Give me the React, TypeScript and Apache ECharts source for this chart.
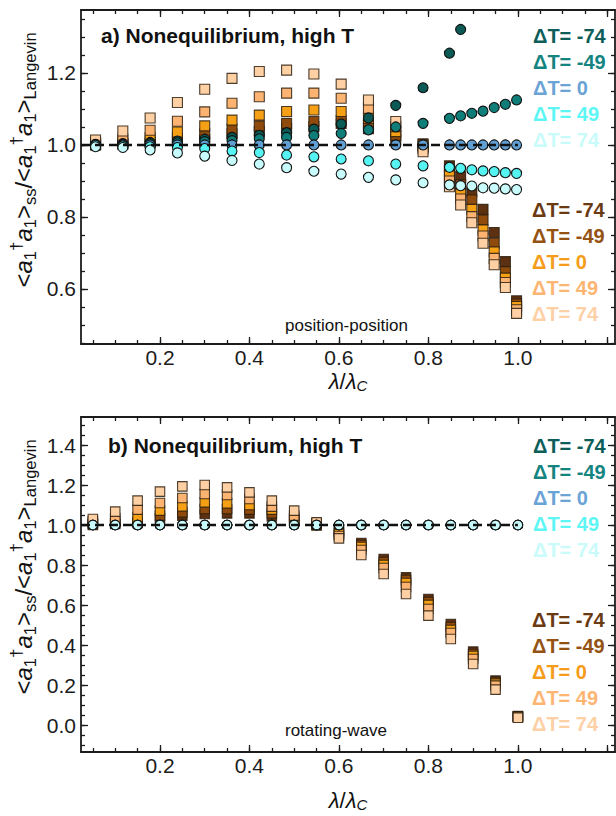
import React, { useEffect, useRef } from "react";
import * as echarts from "echarts";

const FONT = "'Liberation Sans', Arial, Helvetica, sans-serif";

// ---------- legend labels & colours ----------
const dtLabels = ["ΔT= -74", "ΔT= -49", "ΔT= 0", "ΔT= 49", "ΔT= 74"];
const circleColors = ["#0b5a56", "#0f7d78", "#5f9fd3", "#56f3f3", "#c8fcfc"];
const squareColors = ["#5c3010", "#8f4b0c", "#f5a015", "#fdb472", "#fed0a3"];
const circleTextColors = ["#0d5e59", "#138480", "#6aa3d6", "#5ef5f5", "#c9fbfb"];
const squareTextColors = ["#6a3a12", "#945213", "#f59c1a", "#fdb574", "#fdd0a6"];

// ---------- panel a: position-position ----------
const xA = [0.056, 0.117, 0.178, 0.239, 0.3, 0.361, 0.422, 0.483, 0.544, 0.605, 0.666, 0.727, 0.788, 0.847, 0.872, 0.897, 0.922, 0.947, 0.972, 0.997];
const circA_m74 = [1.002, 1.004, 1.007, 1.011, 1.016, 1.021, 1.027, 1.034, 1.044, 1.058, 1.075, 1.11, 1.159, 1.255, 1.321, null, null, null, null, null];
const circA_m49 = [1.001, 1.002, 1.004, 1.006, 1.009, 1.012, 1.017, 1.021, 1.026, 1.032, 1.042, 1.05, 1.06, 1.074, 1.081, 1.088, 1.094, 1.104, 1.113, 1.125];
const circA_0 = [1, 1, 1, 1, 1, 1, 1, 1, 1, 1, 1, 1, 1, 1, 1, 1, 1, 1, 1, 1];
const circA_49 = [0.999, 0.997, 0.995, 0.993, 0.99, 0.983, 0.979, 0.972, 0.967, 0.961, 0.956, 0.947, 0.942, 0.938, 0.935, 0.931, 0.928, 0.926, 0.923, 0.921];
const circA_74 = [0.995, 0.993, 0.986, 0.978, 0.969, 0.957, 0.947, 0.937, 0.927, 0.919, 0.91, 0.903, 0.895, 0.889, 0.887, 0.886, 0.881, 0.88, 0.878, 0.876];
const sqA_m74 = [1.0, 1.002, 1.005, 1.009, 1.015, 1.031, 1.037, 1.046, 1.051, 1.06, 1.045, 1.016, 1.003, 0.942, 0.912, 0.87, 0.821, 0.757, 0.676, 0.567];
const sqA_m49 = [1.001, 1.004, 1.01, 1.019, 1.031, 1.044, 1.053, 1.06, 1.065, 1.068, 1.056, 1.027, 1.0, 0.928, 0.89, 0.847, 0.792, 0.727, 0.648, 0.558];
const sqA_0 = [1.003, 1.008, 1.02, 1.036, 1.053, 1.069, 1.083, 1.093, 1.097, 1.093, 1.074, 1.037, 0.995, 0.914, 0.865, 0.821, 0.764, 0.703, 0.63, 0.551];
const sqA_49 = [1.006, 1.016, 1.041, 1.066, 1.092, 1.116, 1.134, 1.144, 1.144, 1.13, 1.102, 1.051, 0.99, 0.9, 0.85, 0.801, 0.747, 0.685, 0.618, 0.542];
const sqA_74 = [1.014, 1.039, 1.075, 1.118, 1.155, 1.185, 1.204, 1.208, 1.197, 1.169, 1.125, 1.065, 0.981, 0.884, 0.833, 0.784, 0.727, 0.667, 0.604, 0.532];

// ---------- panel b: rotating-wave ----------
const xB = [0.05, 0.1, 0.15, 0.2, 0.25, 0.3, 0.35, 0.4, 0.45, 0.5, 0.55, 0.6, 0.65, 0.7, 0.75, 0.8, 0.85, 0.9, 0.95, 1.0];
const circB_m74 = [1, 1, 1, 1, 1, 1, 1, 1, 1, 1, 1, 1, 1, 1, 1, 1, 1, 1, 1, 1];
const circB_m49 = [1, 1, 1, 1, 1, 1, 1, 1, 1, 1, 1, 1, 1, 1, 1, 1, 1, 1, 1, 1];
const circB_0 = [1, 1, 1, 1, 1, 1, 1, 1, 1, 1, 1, 1, 1, 1, 1, 1, 1, 1, 1, 1];
const circB_49 = [1, 1, 1, 1, 1, 1, 1, 1, 1, 1, 1, 1, 1, 1, 1, 1, 1, 1, 1, 1];
const circB_74 = [1, 1, 1, 1, 1, 1, 1, 1, 1, 1, 1, 1, 1, 1, 1, 1, 1, 1, 1, 1];
const sqB_m74 = [1.0, 1.005, 1.01, 1.033, 1.047, 1.055, 1.058, 1.058, 1.043, 1.02, 0.998, 0.975, 0.91, 0.83, 0.738, 0.63, 0.505, 0.367, 0.222, 0.045];
const sqB_m49 = [1.005, 1.01, 1.02, 1.047, 1.063, 1.08, 1.08, 1.077, 1.058, 1.027, 1.0, 0.965, 0.9, 0.815, 0.725, 0.615, 0.49, 0.355, 0.215, 0.043];
const sqB_0 = [1.01, 1.02, 1.038, 1.072, 1.093, 1.113, 1.108, 1.1, 1.077, 1.035, 1.005, 0.955, 0.89, 0.8, 0.71, 0.6, 0.475, 0.345, 0.207, 0.041];
const sqB_49 = [1.02, 1.035, 1.077, 1.11, 1.135, 1.155, 1.15, 1.13, 1.092, 1.047, 1.01, 0.945, 0.875, 0.785, 0.69, 0.58, 0.46, 0.33, 0.197, 0.04];
const sqB_74 = [1.03, 1.067, 1.122, 1.167, 1.193, 1.2, 1.188, 1.163, 1.122, 1.072, 1.013, 0.933, 0.85, 0.755, 0.655, 0.547, 0.43, 0.305, 0.177, 0.036];

// reference line
const refLineX = [0.0235, 1.0];
const refLineY = 1.0;

// ---------- ticks ----------
const xTickMajor = [0.2, 0.4, 0.6, 0.8, 1.0, 1.2];
const xTickLabels = [0.2, 0.4, 0.6, 0.8, 1.0];
const yTickMajorA = [0.6, 0.8, 1.0, 1.2];
const yTickMajorB = [0.0, 0.2, 0.4, 0.6, 0.8, 1.0, 1.2, 1.4];

function minorTicks(a: number, b: number, step: number) {
  const out: number[] = [];
  const n = Math.round((b - a) / step);
  for (let i = 0; i <= n; i++) out.push(Math.round((a + i * step) * 1000) / 1000);
  return out;
}
const xTickMinor = minorTicks(0.05, 1.2, 0.05);
const yTickMinorA = minorTicks(0.45, 1.35, 0.05);
const yTickMinorB = minorTicks(-0.1, 1.5, 0.05);

const panels = [
  {
    grid: { left: 81, top: 10, width: 534, height: 334 },
    xMin: 0.0235, xMax: 1.217, yMin: 0.447, yMax: 1.375,
    yMajor: yTickMajorA, yMinor: yTickMinorA,
    x: xA,
    circles: [circA_m74, circA_m49, circA_0, circA_49, circA_74],
    squares: [sqA_m74, sqA_m49, sqA_0, sqA_49, sqA_74],
    title: "a) Nonequilibrium, high T", titlePos: [101, 35],
    note: "position-position", notePos: [285, 325],
    circLegendTop: 36, sqLegendTop: 210,
    xNameY: 381, yTitleY: 160,
    sym: 10,
  },
  {
    grid: { left: 81, top: 417, width: 534, height: 335 },
    xMin: 0.0235, xMax: 1.217, yMin: -0.135, yMax: 1.54,
    yMajor: yTickMajorB, yMinor: yTickMinorB,
    x: xB,
    circles: [circB_m74, circB_m49, circB_0, circB_49, circB_74],
    squares: [sqB_m74, sqB_m49, sqB_0, sqB_49, sqB_74],
    title: "b) Nonequilibrium, high T", titlePos: [108, 445],
    note: "rotating-wave", notePos: [285, 730],
    circLegendTop: 446, sqLegendTop: 620,
    xNameY: 800, yTitleY: 567,
    sym: 9.5,
  },
];

const AX = "#1c1c1c";

function buildOption() {
  const grids: any[] = [];
  const xAxes: any[] = [];
  const yAxes: any[] = [];
  const series: any[] = [];
  const graphic: any[] = [];

  panels.forEach((p, g) => {
    grids.push({ ...p.grid, show: false, containLabel: false });
    const base = g * 4;
    const commonX = { type: "value", gridIndex: g, min: p.xMin, max: p.xMax, splitLine: { show: false } };
    const commonY = { type: "value", gridIndex: g, min: p.yMin, max: p.yMax, splitLine: { show: false } };
    const lineOn = { show: true, onZero: false, lineStyle: { color: AX, width: 1.8 } };
    const lineOff = { show: false, onZero: false };
    const tickStyle = { color: AX, width: 1.3 };
    // x axes: bottom major (labels), bottom minor, top major, top minor
    xAxes.push({
      ...commonX, position: "bottom", axisLine: lineOn,
      axisTick: { show: true, inside: true, length: 7, customValues: xTickMajor, lineStyle: tickStyle },
      axisLabel: {
        show: true, customValues: xTickLabels, margin: 3, fontSize: 21, fontFamily: FONT, color: AX,
        formatter: (v: number) => v.toFixed(1),
      },
    });
    xAxes.push({
      ...commonX, position: "bottom", axisLine: lineOff,
      axisTick: { show: true, inside: true, length: 4, customValues: xTickMinor, lineStyle: tickStyle },
      axisLabel: { show: false },
    });
    xAxes.push({
      ...commonX, position: "top", axisLine: lineOn,
      axisTick: { show: true, inside: true, length: 7, customValues: xTickMajor, lineStyle: tickStyle },
      axisLabel: { show: false },
    });
    xAxes.push({
      ...commonX, position: "top", axisLine: lineOff,
      axisTick: { show: true, inside: true, length: 4, customValues: xTickMinor, lineStyle: tickStyle },
      axisLabel: { show: false },
    });
    // y axes
    yAxes.push({
      ...commonY, position: "left", axisLine: lineOn,
      axisTick: { show: true, inside: true, length: 7, customValues: p.yMajor, lineStyle: tickStyle },
      axisLabel: {
        show: true, customValues: p.yMajor, margin: 5, fontSize: 21, fontFamily: FONT, color: AX,
        formatter: (v: number) => v.toFixed(1),
      },
    });
    yAxes.push({
      ...commonY, position: "left", axisLine: lineOff,
      axisTick: { show: true, inside: true, length: 4, customValues: p.yMinor, lineStyle: tickStyle },
      axisLabel: { show: false },
    });
    yAxes.push({
      ...commonY, position: "right", axisLine: lineOn,
      axisTick: { show: true, inside: true, length: 7, customValues: p.yMajor, lineStyle: tickStyle },
      axisLabel: { show: false },
    });
    yAxes.push({
      ...commonY, position: "right", axisLine: lineOff,
      axisTick: { show: true, inside: true, length: 4, customValues: p.yMinor, lineStyle: tickStyle },
      axisLabel: { show: false },
    });

    // squares
    p.squares.forEach((ys, k) => {
      series.push({
        type: "scatter", name: "sq" + g + "_" + dtLabels[k], xAxisIndex: base, yAxisIndex: base,
        symbol: "rect", symbolSize: p.sym, z: 2,
        itemStyle: { color: squareColors[k], borderColor: "rgba(45,30,15,0.85)", borderWidth: 1.1, opacity: 1 },
        data: p.x.map((x, i) => (ys[i] == null ? null : [x, ys[i]])).filter((d) => d !== null),
        silent: true,
      });
    });
    // circles
    p.circles.forEach((ys, k) => {
      series.push({
        type: "scatter", name: "c" + g + "_" + dtLabels[k], xAxisIndex: base, yAxisIndex: base,
        symbol: "circle", symbolSize: p.sym, z: 3,
        itemStyle: { color: circleColors[k], borderColor: "#111", borderWidth: 1.1, opacity: 1 },
        data: p.x.map((x, i) => (ys[i] == null ? null : [x, ys[i]])).filter((d) => d !== null),
        silent: true,
      });
    });
    // dashed reference line
    series.push({
      type: "line", xAxisIndex: base, yAxisIndex: base, z: 4, symbol: "none", silent: true,
      lineStyle: { color: "#111", width: 2.5, type: [9, 5] },
      data: refLineX.map((x) => [x, refLineY]),
    });

    // texts
    graphic.push({
      type: "text", x: p.titlePos[0], y: p.titlePos[1],
      style: { text: p.title, fontSize: 21, fontWeight: "bold", fontFamily: FONT, fill: "#111", align: "left", verticalAlign: "middle" },
    });
    graphic.push({
      type: "text", x: p.notePos[0], y: p.notePos[1],
      style: { text: p.note, fontSize: 17, fontFamily: FONT, fill: "#111", align: "left", verticalAlign: "middle" },
    });
    dtLabels.forEach((lab, k) => {
      graphic.push({
        type: "text", x: 533, y: p.circLegendTop + k * 26,
        style: { text: lab, fontSize: 20, fontWeight: "bold", fontFamily: FONT, fill: circleTextColors[k], align: "left", verticalAlign: "middle" },
      });
      graphic.push({
        type: "text", x: 532, y: p.sqLegendTop + k * 26,
        style: { text: lab, fontSize: 20, fontWeight: "bold", fontFamily: FONT, fill: squareTextColors[k], align: "left", verticalAlign: "middle" },
      });
    });
    // x axis name  λ/λC
    graphic.push({
      type: "text", x: 348, y: p.xNameY,
      style: {
        text: "{i|λ}{n|/}{i|λ}{s|C}",
        align: "center", verticalAlign: "middle", fill: "#111",
        rich: {
          i: { fontSize: 22, fontStyle: "italic", fontFamily: FONT, fill: "#111", lineHeight: 24, verticalAlign: "middle" },
          n: { fontSize: 22, fontFamily: FONT, fill: "#111", lineHeight: 24, verticalAlign: "middle" },
          s: { fontSize: 15, fontStyle: "italic", fontFamily: FONT, fill: "#111", lineHeight: 11, verticalAlign: "bottom" },
        },
      },
    });
    // y axis title
    graphic.push({
      type: "text", x: 23, y: p.yTitleY, rotation: Math.PI / 2,
      style: {
        text: "{n|<}{i|a}{b|1}{p|†}{i|a}{b|1}{n|>}{b|ss}{n|/<}{i|a}{b|1}{p|†}{i|a}{b|1}{n|>}{b|Langevin}",
        align: "center", verticalAlign: "middle", fill: "#111",
        rich: {
          n: { fontSize: 24, fontFamily: FONT, fill: "#111", lineHeight: 30, verticalAlign: "middle" },
          i: { fontSize: 24, fontStyle: "italic", fontFamily: FONT, fill: "#111", lineHeight: 30, verticalAlign: "middle" },
          b: { fontSize: 16.5, fontFamily: FONT, fill: "#111", lineHeight: 14, verticalAlign: "bottom" },
          p: { fontSize: 17, fontFamily: FONT, fill: "#111", lineHeight: 14, verticalAlign: "top" },
        },
      },
    });
  });

  return {
    animation: false,
    backgroundColor: "#ffffff",
    grid: grids,
    xAxis: xAxes,
    yAxis: yAxes,
    series,
    graphic,
  };
}

export default function App() {
  const ref = useRef<HTMLDivElement>(null);
  useEffect(() => {
    if (!ref.current) return;
    const chart = echarts.init(ref.current, undefined, { renderer: "svg" });
    chart.setOption(buildOption() as any);
    return () => chart.dispose();
  }, []);
  return (
    <div
      ref={ref}
      style={{ position: "absolute", left: 0, top: 0, width: 616, height: 816, background: "#fff" }}
    />
  );
}
